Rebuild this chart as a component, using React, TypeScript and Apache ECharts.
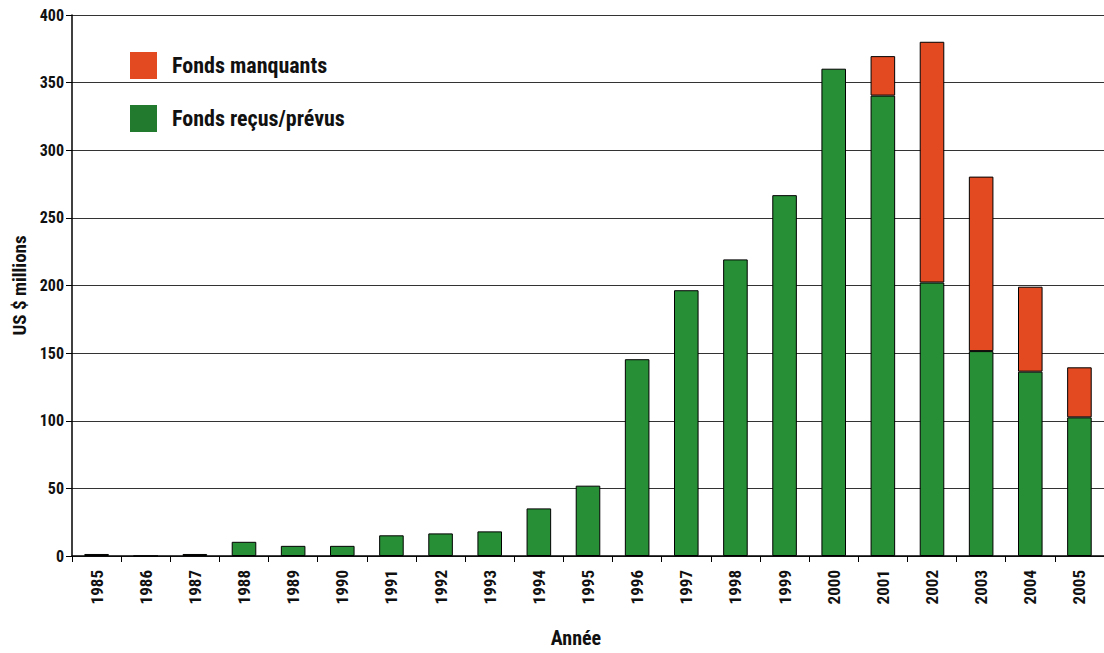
import React, { useEffect, useRef } from "react";
import * as echarts from "echarts";

// Années de financement
const years = [
  "1985", "1986", "1987", "1988", "1989", "1990", "1991", "1992", "1993", "1994", "1995",
  "1996", "1997", "1998", "1999", "2000", "2001", "2002", "2003", "2004", "2005",
];

// Fonds reçus ou prévus (US $ millions)
const received = [
  1.5, 0, 1.5, 10.5, 7.5, 7.5, 15.3, 16.7, 18.2, 35.2, 52,
  145.5, 196.5, 219.3, 266.8, 360.3, 340.4, 202.2, 151.5, 136.3, 102.5,
];

// Fonds manquants (US $ millions)
const missing = [
  null, null, null, null, null, null, null, null, null, null, null,
  null, null, null, null, null, 29.2, 178, 129, 62.8, 37,
];

const yTicks = { min: 0, max: 400, interval: 50 };

const FONT = "'Roboto Condensed', 'Open Sans Condensed', 'Liberation Sans Narrow', Roboto, sans-serif";
const GREEN = "#278F36";
const GREEN_LEGEND = "#217A2D";
const ORANGE = "#E34A21";

const txt = (size: number) => ({
  fontFamily: FONT,
  fontSize: size,
  fontWeight: "bold",
  color: "#111",
});

export default function App() {
  const ref = useRef<HTMLDivElement>(null);

  useEffect(() => {
    if (!ref.current) return;
    const chart = echarts.init(ref.current, null, { renderer: "svg" });
    chart.setOption({
      animation: false,
      backgroundColor: "#fff",
      textStyle: { fontFamily: FONT },
      grid: { left: 72, top: 15, bottom: 96, width: 1036 },
      legend: {
        orient: "vertical",
        left: 125,
        top: 47,
        itemWidth: 27,
        itemHeight: 27,
        itemGap: 26,
        icon: "rect",
        itemStyle: { borderWidth: 0 },
        textStyle: { ...txt(22), padding: [0, 0, 0, 10] },
        data: [
          { name: "Fonds manquants", itemStyle: { color: ORANGE } },
          { name: "Fonds reçus/prévus", itemStyle: { color: GREEN_LEGEND } },
        ],
      },
      xAxis: {
        type: "category",
        data: years,
        name: "Année",
        nameLocation: "middle",
        nameGap: 72,
        nameTextStyle: { ...txt(20), padding: [0, 24, 0, 0] },
        axisLine: { lineStyle: { color: "#000", width: 1.5 } },
        axisTick: { show: true, length: 6, lineStyle: { color: "#000" } },
        axisLabel: { rotate: 90, margin: 14, ...txt(17) },
      },
      yAxis: {
        type: "value",
        min: yTicks.min,
        max: yTicks.max,
        interval: yTicks.interval,
        name: "US $ millions",
        nameLocation: "middle",
        nameGap: 42,
        nameTextStyle: txt(19),
        axisLine: { show: true, lineStyle: { color: "#000", width: 1.5 } },
        axisTick: { show: true, length: 6, lineStyle: { color: "#000" } },
        axisLabel: { margin: 8, ...txt(16) },
        splitLine: { show: true, lineStyle: { color: "#333", width: 1 } },
      },
      series: [
        {
          name: "Fonds reçus/prévus",
          type: "bar",
          stack: "total",
          barWidth: "50%",
          data: received,
          itemStyle: { color: GREEN, borderColor: "#000", borderWidth: 1 },
        },
        {
          name: "Fonds manquants",
          type: "bar",
          stack: "total",
          barWidth: "50%",
          data: missing,
          itemStyle: { color: ORANGE, borderColor: "#000", borderWidth: 1 },
        },
      ],
    });
    return () => chart.dispose();
  }, []);

  return (
    <div
      ref={ref}
      style={{ position: "fixed", left: 0, top: 0, width: 1104, height: 653, overflow: "hidden" }}
    />
  );
}
